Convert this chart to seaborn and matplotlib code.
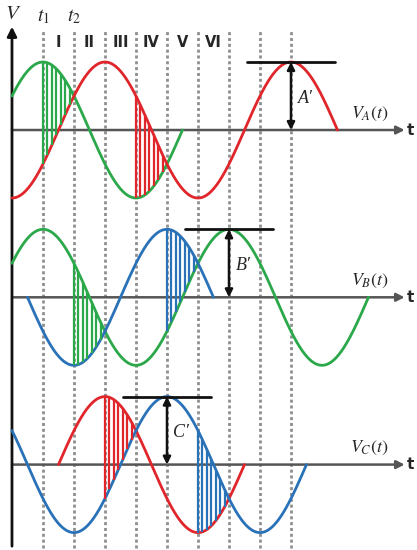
import numpy as np
import pandas as pd
import matplotlib
matplotlib.use("Agg")
import matplotlib.pyplot as plt
import seaborn as sns

# ---------------- data ----------------
phase_colors = {"green": "#2aa84a", "red": "#e0262b", "blue": "#2a72b8"}
phase_peak_deg = {"green": 60, "red": 180, "blue": 300}   # angle of first maximum
amplitude = 1.0
baselines = [0.0, -2.46, -4.92]                        # panel A, B, C
# (colour, start angle, end angle)
panel_curves = [
    [("green", 0, 330), ("red", 0, 630)],
    [("green", 0, 690), ("blue", 30, 390)],
    [("red", 90, 450), ("blue", 0, 570)],
]
# (upper colour, lower colour, start, end)
panel_hatches = [
    [("green", "red", 60, 120), ("red", "green", 240, 300)],
    [("green", "blue", 120, 180), ("blue", "green", 300, 360)],
    [("red", "blue", 180, 240), ("blue", "red", 360, 420)],
]
peak_markers = [("red", 540), ("green", 420), ("blue", 300)]
prime_labels = ["A\u2032", "B\u2032", "C\u2032"]
signal_labels = ["$V_A(t)$", "$V_B(t)$", "$V_C(t)$"]
grid_deg = [60, 120, 180, 240, 300, 360, 420, 480, 540]
roman_labels = ["I", "II", "III", "IV", "V", "VI"]
roman_deg = [90, 150, 210, 270, 330, 390]

# ---------------- figure ----------------
sns.set_style("white")
plt.rcParams["mathtext.fontset"] = "stix"
plt.rcParams["font.family"] = ["DejaVu Sans"]

fig = plt.figure(figsize=(4.17, 5.50), dpi=100)
ax = fig.add_axes([0, 0, 1, 1])
ax.set_xlim(-23.2, 783.9)
ax.set_ylim(-6.176, 1.912)
ax.axis("off")


def wave(color, deg):
    return amplitude * np.cos(np.radians(np.asarray(deg) - phase_peak_deg[color]))


# dotted grid
for g in grid_deg:
    ax.plot([g, g], [-6.15, 1.47], color="#8f8f8f", lw=2.0, ls=(0, (1.1, 1.0)), zorder=1)

# vertical axis
ax.annotate("", xy=(0, 1.52), xytext=(0, -6.12),
            arrowprops=dict(arrowstyle="-|>", color="#111111", lw=2.0,
                            mutation_scale=14, shrinkA=0, shrinkB=0), zorder=3)
ax.text(2, 1.72, "$V$", fontsize=15, ha="center", va="center")
ax.text(60, 1.67, "$t_1$", fontsize=14, ha="center", va="center")
ax.text(120, 1.67, "$t_2$", fontsize=14, ha="center", va="center")
for lab, d in zip(roman_labels, roman_deg):
    ax.text(d, 1.29, lab, fontsize=10.5, fontweight="bold", ha="center", va="center")

for i, base in enumerate(baselines):
    # horizontal axis
    ax.annotate("", xy=(760, base), xytext=(0, base),
                arrowprops=dict(arrowstyle="-|>", color="#555555", lw=1.8,
                                mutation_scale=12, shrinkA=0, shrinkB=0), zorder=2)
    ax.text(771, base, "t", fontsize=11, fontweight="bold", ha="center", va="center")

    # curves
    for color, a0, a1 in panel_curves[i]:
        deg = np.linspace(a0, a1, 400)
        df = pd.DataFrame({"deg": deg, "v": base + wave(color, deg)})
        sns.lineplot(data=df, x="deg", y="v", ax=ax, color=phase_colors[color],
                     lw=2.0, sort=False, zorder=4, legend=False)

    # hatching between curves
    for up, lo, a0, a1 in panel_hatches[i]:
        xs = np.arange(a0, a1, 60 / 7.0)
        ax.vlines(xs, base + wave(lo, xs), base + wave(up, xs),
                  color=phase_colors[up], lw=1.6, zorder=5)

    # peak marker
    pc, pd_ = peak_markers[i]
    ax.plot([pd_ - 86, pd_ + 86], [base + amplitude] * 2, color="#111111", lw=2.0, zorder=6)
    ax.annotate("", xy=(pd_, base + amplitude), xytext=(pd_, base),
                arrowprops=dict(arrowstyle="<|-|>", color="#111111", lw=1.8,
                                mutation_scale=11, shrinkA=0, shrinkB=0), zorder=6)
    ax.text(pd_ + 28, base + 0.47, prime_labels[i], fontsize=13, ha="center", va="center",
            family=["Liberation Serif", "DejaVu Serif"], style="italic")
    ax.text(692, base + 0.24, signal_labels[i], fontsize=13, ha="center", va="center")

fig.savefig("out.png", dpi=100)
